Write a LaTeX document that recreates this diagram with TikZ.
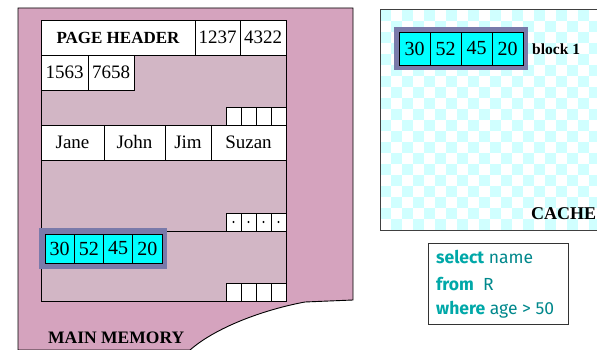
\documentclass[tikz,border=0pt]{standalone}
\usepackage{fontspec}
\setmainfont{Liberation Serif}
\newfontfamily\queryfont{Fira Sans}
\usetikzlibrary{positioning}
\definecolor{mempink}{RGB}{213,163,190}
\definecolor{pagepink}{RGB}{210,182,197}
\definecolor{blockframe}{RGB}{122,122,170}
\definecolor{blockcyan}{RGB}{0,255,255}
\definecolor{checkcyan}{RGB}{208,255,255}
\definecolor{sqlkey}{RGB}{0,168,168}
\definecolor{sqltext}{RGB}{0,136,140}

\begin{document}
\begin{tikzpicture}[x=1pt, y=-1pt,
  cell/.style={draw, fill=white, line width=0.9pt, inner sep=0pt, outer sep=0pt,
    anchor=north west, minimum height=35pt, font=\fontsize{19}{19}\selectfont},
  slot/.style={draw, fill=white, line width=0.9pt, inner sep=0pt, outer sep=0pt,
    anchor=north west, minimum width=15pt, minimum height=18pt},
  bcell/.style={draw, fill=blockcyan, line width=0.6pt, inner sep=0pt, outer sep=0pt,
    anchor=north west, font=\fontsize{20}{20}\selectfont},
  biglabel/.style={inner sep=0pt, font=\bfseries\fontsize{17.5}{17.5}\selectfont},
  sqlline/.style={anchor=west, inner sep=0pt, text=sqltext,
    font=\queryfont\fontsize{17.5}{17.5}\selectfont},
]
  \useasboundingbox (0,0) rectangle (597,350);

  % ── Main memory outline ───────────────────────────────────────────────────
  \draw[fill=mempink, line width=0.9pt]
    (18,8) -- (353,8) -- (353,300) -- (305,302)
    .. controls (262,310) and (215,328) .. (190,350) -- (18,350) -- cycle;
  \node[biglabel, anchor=west] (mainmem) at (48,338) {MAIN MEMORY};

  % ── Page with records ─────────────────────────────────────────────────────
  \draw[fill=pagepink, line width=0.9pt] (41,20) rectangle (286,301);
  \draw[line width=0.9pt] (41,125) -- (286,125);
  \draw[line width=0.9pt] (41,231) -- (286,231);

  \node[cell, minimum width=154pt, font=\bfseries\fontsize{17}{17}\selectfont]
    (hdr) at (41,20) {PAGE HEADER};
  \node[cell, minimum width=45pt] (p1237) at (195,20) {1237};
  \node[cell, minimum width=46pt] (p4322) at (240,20) {4322};
  \node[cell, minimum width=47pt] (p1563) at (41,55) {1563};
  \node[cell, minimum width=46pt] (p7658) at (88,55) {7658};

  \node[cell, minimum width=63pt] (jane)  at (41,125)  {Jane};
  \node[cell, minimum width=61pt] (john)  at (104,125) {John};
  \node[cell, minimum width=46pt] (jim)   at (165,125) {Jim};
  \node[cell, minimum width=75pt] (suzan) at (211,125) {Suzan};

  % slot boxes at the end of each part
  \foreach \s in {0,...,3} {
    \node[slot] (slota\s) at ({226+15*\s},107) {};
    \node[slot] (slotb\s) at ({226+15*\s},213) {};
    \fill (slotb\s.center) circle (1.2pt);
    \node[slot] (slotc\s) at ({226+15*\s},283) {};
  }

  % ── Block in memory ───────────────────────────────────────────────────────
  \fill[blockframe] (39,228) rectangle (167,269);
  \foreach \v [count=\i] in {30,52,45,20}
    \node[bcell, minimum width=29.25pt, minimum height=29pt]
      (mem\i) at ({45+29.25*(\i-1)},234) {\v};

  % ── Cache ─────────────────────────────────────────────────────────────────
  \begin{scope}
    \clip (380,10) rectangle (620,230);
    \fill[white] (380,10) rectangle (620,230);
    \foreach \i in {0,...,21} {
      \foreach \j in {0,2,...,20} {
        \pgfmathtruncatemacro\jj{\j+mod(\i,2)}
        \fill[checkcyan] ({380+11*\i},{10+11*\jj}) rectangle ++(11,11);
      }
    }
  \end{scope}
  \draw[line width=1pt, draw=black!75] (380,10) rectangle (620,230);

  \fill[blockframe] (394,27) rectangle (528,70);
  \foreach \v [count=\i] in {30,52,45,20}
    \node[bcell, minimum width=31pt, minimum height=33pt]
      (cache\i) at ({399+31*(\i-1)},32) {\v};
  \node[anchor=west, inner sep=0pt, font=\bfseries\fontsize{15.5}{15.5}\selectfont]
    (blk) at (532,49) {block 1};
  \node[biglabel, anchor=west, font=\bfseries\fontsize{18}{18}\selectfont]
    (cachelbl) at (531,214) {CACHE};

  % ── Query ─────────────────────────────────────────────────────────────────
  \draw[line width=1pt, draw=black!80, fill=white] (428,243) rectangle (568,324);
  \node[sqlline] (qsel) at (436,257) {\textcolor{sqlkey}{\bfseries select} name};
  \node[sqlline] (qfrom) at (436,284) {\textcolor{sqlkey}{\bfseries from}\ \ R};
  \node[sqlline] (qwhere) at (436,310) {\textcolor{sqlkey}{\bfseries where} age > 50};
\end{tikzpicture}
\end{document}
